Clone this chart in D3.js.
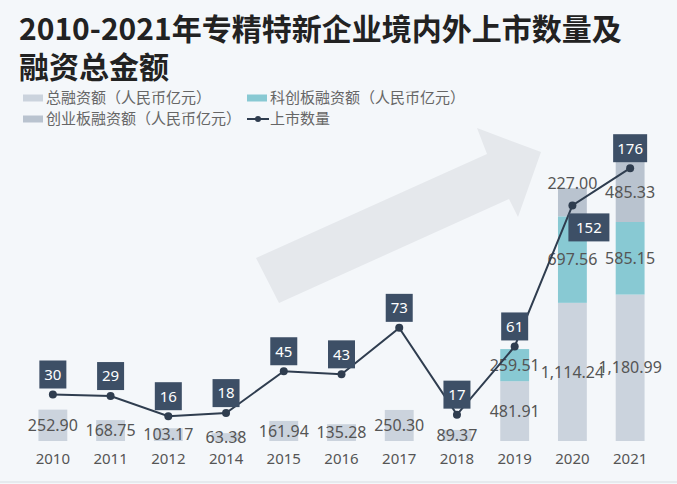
<!DOCTYPE html>
<html>
<head>
<meta charset="utf-8">
<script src="https://cdn.jsdelivr.net/npm/d3@7"></script>
<style>
  body { margin: 0; background: #f4f7fa; }
  svg { display: block; font-family: "Noto Sans CJK SC", "Noto Sans", sans-serif; }
</style>
</head>
<body>
<div id="chart-container"></div>
<script>
// data
const years = ["2010", "2011", "2012", "2014", "2015", "2016", "2017", "2018", "2019", "2020", "2021"];
const totalFund = [252.9, 168.75, 103.17, 63.38, 161.94, 135.28, 250.3, 89.37, 481.91, 1114.24, 1180.99];
const starFund = [0, 0, 0, 0, 0, 0, 0, 0, 259.51, 697.56, 585.15];
const gemFund = [0, 0, 0, 0, 0, 0, 0, 0, 0, 227.0, 485.33];
const listings = [30, 29, 16, 18, 45, 43, 73, 17, 61, 152, 176];

const seriesNames = ["总融资额（人民币亿元）", "科创板融资额（人民币亿元）", "创业板融资额（人民币亿元）", "上市数量"];
const colors = ["#cbd3dd", "#88c9d3", "#b9c3cf"];
const lineColor = "#2f3d4f";
const boxColor = "#3d4f66";

const width = 677;
const height = 484;

const svg = d3
  .select("#chart-container")
  .append("svg")
  .attr("width", width)
  .attr("height", height);

svg.append("rect").attr("width", width).attr("height", height).attr("fill", "#f4f7fa");

// decorative arrow in the background
svg
  .append("polygon")
  .attr("points", "256,258 487,154 477,128 541,152 518,217 509,199 279,303")
  .attr("fill", "#e5e8ec");

// scales
const xScale = d3.scaleBand().domain(years).range([24, 659]).paddingInner(0.5).paddingOuter(0.25);
const yScale = d3.scaleLinear().domain([0, 2500]).range([441, 131]);
const yRight = d3.scaleLinear().domain([0, 200]).range([441, 131]);

// stacked bars
const rows = years.map((y, i) => ({ year: y, total: totalFund[i], star: starFund[i], gem: gemFund[i] }));
const keys = ["total", "star", "gem"];
const stack = d3.stack().keys(keys)(rows);

stack.forEach((layer, li) => {
  svg
    .append("g")
    .selectAll("rect")
    .data(layer.filter((d) => d[1] > d[0]))
    .join("rect")
    .attr("x", (d) => xScale(d.data.year))
    .attr("width", xScale.bandwidth())
    .attr("y", (d) => yScale(d[1]))
    .attr("height", (d) => yScale(d[0]) - yScale(d[1]))
    .attr("fill", colors[li]);
});

// bar value labels
const fmt = d3.format(",.2f");
stack.forEach((layer, li) => {
  svg
    .append("g")
    .selectAll("text")
    .data(layer.filter((d) => d[1] > d[0]))
    .join("text")
    .attr("x", (d) => xScale(d.data.year) + xScale.bandwidth() / 2)
    .attr("y", (d) => {
      // the 2020 GEM label sits at the top of its bar
      if (keys[li] === "gem" && d.data.year === "2020") return yScale(d[1]) - 5;
      return (yScale(d[0]) + yScale(d[1])) / 2;
    })
    .attr("dy", "0.35em")
    .attr("text-anchor", "middle")
    .style("font-family", "'Noto Sans', sans-serif")
    .style("font-size", "16px")
    .style("fill", "#555")
    .text((d) => fmt(d[1] - d[0]));
});

// x-axis
const xAxis = d3.axisBottom(xScale).tickSize(0).tickPadding(12);
svg
  .append("g")
  .attr("transform", "translate(0, 441)")
  .style("font-size", "15px")
  .style("font-family", "'Noto Sans', sans-serif")
  .call(xAxis)
  .call((g) => g.select(".domain").remove())
  .selectAll(".tick text")
  .attr("fill", "#555");

// bottom rule
svg
  .append("line")
  .attr("x1", 0)
  .attr("x2", width)
  .attr("y1", 482)
  .attr("y2", 482)
  .attr("stroke", "#e2e6ea")
  .attr("stroke-width", 1.5);

// line of listings
const cx = (i) => xScale(years[i]) + xScale.bandwidth() / 2;
const line = d3
  .line()
  .x((d, i) => cx(i))
  .y((d) => yRight(d));

svg
  .append("path")
  .datum(listings)
  .attr("fill", "none")
  .attr("stroke", lineColor)
  .attr("stroke-width", 2)
  .attr("d", line);

svg
  .append("g")
  .selectAll("circle")
  .data(listings)
  .join("circle")
  .attr("cx", (d, i) => cx(i))
  .attr("cy", (d) => yRight(d))
  .attr("r", 4)
  .attr("fill", lineColor);

// listing count boxes
const boxes = svg
  .append("g")
  .selectAll("g")
  .data(listings)
  .join("g")
  .attr("transform", (d, i) => {
    const bw = d >= 100 ? 34 : 27;
    if (years[i] === "2020") return `translate(${cx(i) - 4}, ${yRight(d) + 8})`;
    return `translate(${cx(i) - bw / 2}, ${yRight(d) - 34})`;
  });

boxes
  .append("rect")
  .attr("width", (d, i) => (years[i] === "2020" ? 41 : d >= 100 ? 34 : 27))
  .attr("height", 28)
  .attr("fill", boxColor);

boxes
  .append("text")
  .attr("x", (d, i) => (years[i] === "2020" ? 20.5 : d >= 100 ? 17 : 13.5))
  .attr("y", 14)
  .attr("dy", "0.36em")
  .attr("text-anchor", "middle")
  .style("font-family", "'Noto Sans', sans-serif")
  .style("font-size", "15px")
  .style("fill", "#fff")
  .text((d) => d);

// legend
const legendItems = [
  { name: seriesNames[0], x: 23, y: 98, type: "rect", color: colors[0] },
  { name: seriesNames[1], x: 247, y: 98, type: "rect", color: colors[1] },
  { name: seriesNames[2], x: 23, y: 119, type: "rect", color: colors[2] },
  { name: seriesNames[3], x: 247, y: 119, type: "line", color: lineColor },
];

const legend = svg
  .append("g")
  .selectAll("g")
  .data(legendItems)
  .join("g")
  .attr("transform", (d) => `translate(${d.x}, ${d.y})`);

legend
  .filter((d) => d.type === "rect")
  .append("rect")
  .attr("y", -3.5)
  .attr("width", 20)
  .attr("height", 7)
  .attr("fill", (d) => d.color);

legend
  .filter((d) => d.type === "line")
  .call((g) =>
    g
      .append("line")
      .attr("x1", 0)
      .attr("x2", 22)
      .attr("stroke", (d) => d.color)
      .attr("stroke-width", 2)
  )
  .append("circle")
  .attr("cx", 11)
  .attr("r", 3)
  .attr("fill", (d) => d.color);

legend
  .append("text")
  .attr("x", 23)
  .attr("dy", "0.35em")
  .style("font-size", "15px")
  .style("fill", "#666")
  .text((d) => d.name);

// chart title, two lines
svg
  .selectAll(".chart-title")
  .data(["2010-2021年专精特新企业境内外上市数量及", "融资总金额"])
  .join("text")
  .attr("class", "chart-title")
  .attr("x", 19)
  .attr("y", (d, i) => 40 + i * 38)
  .style("font-size", "30px")
  .style("font-weight", "bold")
  .style("fill", "#222")
  .text((d) => d);
</script>
</body>
</html>
